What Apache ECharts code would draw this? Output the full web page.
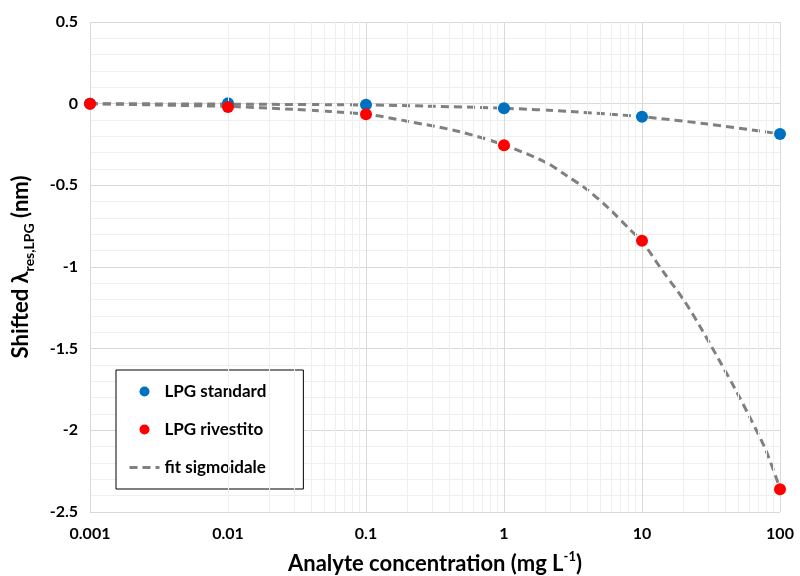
<!DOCTYPE html>
<html>
<head>
<meta charset="utf-8">
<script src="https://cdn.jsdelivr.net/npm/echarts@6/dist/echarts.min.js"></script>
<style>html,body{margin:0;padding:0;background:#fff}#c{width:800px;height:576px}</style>
</head>
<body>
<div id="c"></div>
<script>
// ---- data ----
const concentrations = [0.001, 0.01, 0.1, 1, 10, 100];
const lpgStandard = [0, 0.003, -0.006, -0.028, -0.08, -0.185];
const lpgRivestito = [0, -0.02, -0.065, -0.255, -0.84, -2.36];
// fit curves
const fitStdX = [0.001, 0.01, 0.1, 0.27, 1, 3, 10, 30, 100];
const fitStdY = [0, -0.003, -0.008, -0.015, -0.028, -0.048, -0.08, -0.125, -0.185];
const fitRivX = [0.001, 0.003, 0.01, 0.03, 0.1, 0.2, 0.47, 1, 2.04, 2.8, 4, 5.77, 8.28, 10, 14, 20.1, 27.3, 36.2, 47.8, 61.3, 78.8, 100];
const fitRivY = [0, -0.008, -0.017, -0.035, -0.065, -0.108, -0.17, -0.253, -0.362, -0.437, -0.526, -0.643, -0.775, -0.843, -1.02, -1.203, -1.387, -1.57, -1.754, -1.93, -2.12, -2.356];
const xTickLabels = ['0.001', '0.01', '0.1', '1', '10', '100'];
const yMin = -2.5, yMax = 0.5, yStep = 0.5;

const minorX = [];
[0.001, 0.01, 0.1, 1, 10].forEach(d => { for (let k = 2; k <= 9; k++) minorX.push(+(d * k).toPrecision(3)); });

const zip = (a, b) => a.map((v, i) => [v, b[i]]);
const FONT = 'Lato';
const fitLine = { color: '#808080', width: 3, type: [8, 5] };

const chart = echarts.init(document.getElementById('c'));
chart.setOption({
  backgroundColor: '#fff',
  animation: false,
  textStyle: { fontFamily: FONT },
  grid: { left: 90, right: 20, top: 22, bottom: 64, containLabel: false, outerBoundsMode: 'none' },
  xAxis: {
    type: 'log', logBase: 10, min: 0.001, max: 100,
    axisLine: { show: false }, axisTick: { show: false },
    axisLabel: { color: '#000', fontWeight: 'bold', fontSize: 16, fontFamily: FONT, margin: 14,
      formatter: v => { const i = concentrations.findIndex(c => Math.abs(Math.log10(c) - Math.log10(v)) < 1e-6); return i >= 0 ? xTickLabels[i] : ''; } },
    splitLine: { show: true, lineStyle: { color: '#d9d9d9', width: 1 } },
    name: '{a|Analyte concentration (mg L}{p|-1}{a|)}',
    nameLocation: 'middle', nameGap: 38,
    nameTextStyle: { rich: {
      a: { fontSize: 22, fontWeight: 'bold', color: '#000', fontFamily: FONT, lineHeight: 28 },
      p: { fontSize: 13, fontWeight: 'bold', color: '#000', fontFamily: FONT, lineHeight: 14, verticalAlign: 'top' }
    } }
  },
  yAxis: {
    type: 'value', min: yMin, max: yMax, interval: yStep,
    axisLine: { show: false }, axisTick: { show: false },
    axisLabel: { color: '#000', fontWeight: 'bold', fontSize: 16, fontFamily: FONT, margin: 12 },
    splitLine: { show: true, lineStyle: { color: '#d9d9d9', width: 1 } },
    minorTick: { show: false, splitNumber: 5 },
    minorSplitLine: { show: true, lineStyle: { color: '#efefef', width: 1 } },
    name: '{a|Shifted λ}{s|res,LPG}{a| (nm)}',
    nameLocation: 'middle', nameGap: 54, nameRotate: 90,
    nameTextStyle: { rich: {
      a: { fontSize: 22, fontWeight: 'bold', color: '#000', fontFamily: FONT, lineHeight: 30 },
      s: { fontSize: 14, fontWeight: 'bold', color: '#000', fontFamily: FONT, lineHeight: 15, verticalAlign: 'bottom' }
    } }
  },
  legend: {
    orient: 'vertical', left: 116, top: 370,
    backgroundColor: '#fff', borderColor: '#000', borderWidth: 1,
    padding: [13, 37, 13, 12], itemGap: 21, itemWidth: 30, itemHeight: 10,
    textStyle: { color: '#000', fontWeight: 'bold', fontSize: 17, fontFamily: FONT },
    data: [
      { name: 'LPG standard', icon: 'circle' },
      { name: 'LPG rivestito', icon: 'circle' },
      { name: 'fit sigmoidale', itemStyle: { opacity: 0 }, lineStyle: fitLine }
    ]
  },
  series: [
    { type: 'line', name: '_grid', data: [], silent: true, z: 1,
      markLine: { silent: true, symbol: ['none', 'none'], label: { show: false },
        lineStyle: { color: '#efefef', type: 'solid', width: 1 },
        data: minorX.map(v => ({ xAxis: v })) } },
    { type: 'line', name: 'fit sigmoidale', data: zip(fitStdX, fitStdY), smooth: 0.3, showSymbol: false, symbol: 'none', z: 3,
      itemStyle: { color: '#808080' }, lineStyle: fitLine },
    { type: 'line', name: 'fit sigmoidale', data: zip(fitRivX, fitRivY), smooth: 0.3, showSymbol: false, symbol: 'none', z: 3,
      itemStyle: { color: '#808080' }, lineStyle: fitLine },
    { type: 'scatter', name: 'LPG standard', data: zip(concentrations, lpgStandard), symbolSize: 12, z: 4,
      itemStyle: { color: '#0070c0', opacity: 1 }, clip: false },
    { type: 'scatter', name: 'LPG rivestito', data: zip(concentrations, lpgRivestito), symbolSize: 12, z: 5,
      itemStyle: { color: '#ff0000', opacity: 1 }, clip: false }
  ]
});
</script>
</body>
</html>
